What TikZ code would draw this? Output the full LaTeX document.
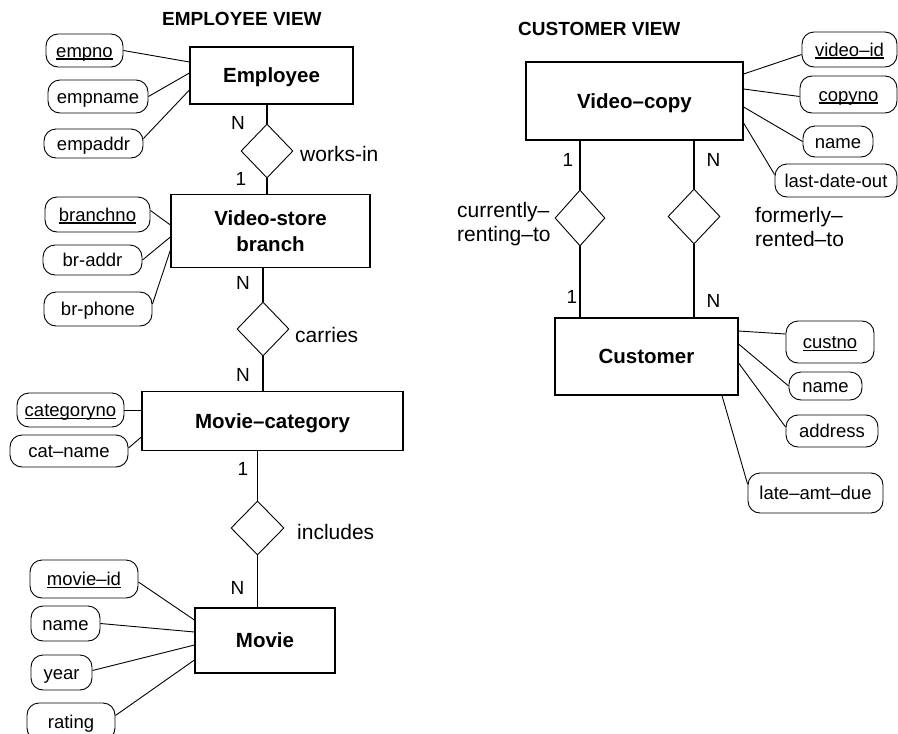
\documentclass[tikz,border=0pt]{standalone}
\usepackage{fontspec}
\setmainfont{Liberation Sans}
\usetikzlibrary{shapes.geometric}
\newcommand\attrul[1]{\setbox0\hbox{#1}\rlap{\vrule width\wd0 height -1.3pt depth 2.4pt}\box0}
\begin{document}
\begin{tikzpicture}[x=1pt,y=-1pt,
 entity/.style={draw, line width=1.2pt, rectangle, inner sep=0pt, font=\fontsize{20.5}{26}\selectfont\bfseries, text depth=0pt},
 attr/.style={draw, line width=0.9pt, rectangle, rounded corners=12pt, inner sep=0pt, font=\fontsize{18.5}{22}\selectfont, text height=13.3pt, text depth=0pt},
 rel/.style={draw, diamond, line width=0.9pt, inner sep=0pt},
 card/.style={inner sep=0pt, font=\fontsize{19}{22}\selectfont, text depth=0pt},
 rlabel/.style={inner sep=0pt, font=\fontsize{21}{24}\selectfont, anchor=base west},
 title/.style={inner sep=0pt, font=\fontsize{19}{22}\selectfont\bfseries, anchor=base west},
 link/.style={line width=0.9pt},
 conn/.style={line width=1.2pt}]
\useasboundingbox (0,0) rectangle (898,734);

% titles
\node[title] (t1) at (162,25) {EMPLOYEE VIEW};
\node[title] (t2) at (518,35) {CUSTOMER VIEW};

% entities
\node[entity, minimum width=163pt, minimum height=57pt] (emp) at (271.5,75.5) {Employee};
\node[entity, minimum width=199pt, minimum height=73pt, align=center] (vsb) at (270.5,231) {Video-store\\branch};
\node[entity, minimum width=261pt, minimum height=59.5pt] (mcat) at (272.5,421) {Movie–category};
\node[entity, minimum width=140pt, minimum height=65pt] (movie) at (265,640.5) {Movie};
\node[entity, minimum width=217pt, minimum height=78pt] (vcopy) at (634.5,101) {Video–copy};
\node[entity, minimum width=183pt, minimum height=77pt] (cust) at (646.5,356.5) {Customer};

% relationships
\node[rel, minimum width=52pt, minimum height=54pt] (worksin) at (267,151) {};
\node[rel, minimum width=52pt, minimum height=54pt] (carries) at (263,329) {};
\node[rel, minimum width=53pt, minimum height=54pt] (includes) at (257.5,528) {};
\node[rel, minimum width=50pt, minimum height=56pt] (renting) at (580,218) {};
\node[rel, minimum width=52pt, minimum height=55pt] (rented) at (694,216.5) {};

\draw[conn] (worksin.north |- emp.south) -- (worksin.north);
\draw[conn] (worksin.south) -- (worksin.south |- vsb.north);
\draw[conn] (carries.north |- vsb.south) -- (carries.north);
\draw[conn] (carries.south) -- (carries.south |- mcat.north);
\draw[conn] (includes.north |- mcat.south) -- (includes.north);
\draw[conn] (includes.south) -- (includes.south |- movie.north);
\draw[conn] (renting.north |- vcopy.south) -- (renting.north);
\draw[conn] (renting.south) -- (renting.south |- cust.north);
\draw[conn] (rented.north |- vcopy.south) -- (rented.north);
\draw[conn] (rented.south) -- (rented.south |- cust.north);

% relationship labels
\node[rlabel] (lw) at (300,161.5) {works-in};
\node[rlabel] (lc) at (295,342) {carries};
\node[rlabel] (li) at (297,539) {includes};
\node[rlabel, anchor=north west, align=left] (lr) at (457,202.5) {currently–\\renting–to};
\node[rlabel, anchor=north west, align=left] (lf) at (755,207.5) {formerly–\\rented–to};

% cardinalities
\node[card] (c1) at (238,123) {N};
\node[card] (c2) at (241,179) {1};
\node[card] (c3) at (243,283) {N};
\node[card] (c4) at (243,375) {N};
\node[card] (c5) at (243,469) {1};
\node[card] (c6) at (237.5,588) {N};
\node[card] (c7) at (568,160) {1};
\node[card] (c8) at (713.5,160) {N};
\node[card] (c9) at (572,297) {1};
\node[card] (c10) at (713.5,301) {N};

% attributes: employee
\node[attr, minimum width=77pt, minimum height=33pt] (empno) at (84.5,50.5) {\attrul{empno}};
\node[attr, minimum width=100pt, minimum height=33pt] (empname) at (98,96.5) {empname};
\node[attr, minimum width=99pt, minimum height=29pt] (empaddr) at (93.5,143.5) {empaddr};
\draw[link] (empno.east) -- (emp.west |- 0,62);
\draw[link] (empname.east) -- (emp.west |- 0,73);
\draw[link] ([yshift=5pt]empaddr.east) -- (emp.west |- 0,90);

% attributes: branch
\node[attr, minimum width=105pt, minimum height=35pt] (branchno) at (97.5,214.5) {\attrul{branchno}};
\node[attr, minimum width=99pt, minimum height=30pt] (braddr) at (92.5,260) {br-addr};
\node[attr, minimum width=108pt, minimum height=34pt] (brphone) at (98,309) {br-phone};
\draw[link] ([yshift=4pt]branchno.east) -- (vsb.west |- 0,225);
\draw[link] (braddr.east) -- (vsb.west |- 0,237);
\draw[link] ([yshift=5pt]brphone.east) -- (vsb.west |- 0,250);

% attributes: category
\node[attr, minimum width=107pt, minimum height=34pt] (catno) at (70.5,410) {\attrul{categoryno}};
\node[attr, minimum width=118pt, minimum height=32pt] (catname) at (69,451) {cat–name};
\draw[link] (catno.east) -- (mcat.west |- 0,410);
\draw[link] ([yshift=3pt]catname.east) -- (mcat.west |- 0,437);

% attributes: movie
\node[attr, minimum width=108pt, minimum height=38pt] (movieid) at (84,579) {\attrul{movie–id}};
\node[attr, minimum width=69pt, minimum height=35pt] (mname) at (65.5,623.5) {name};
\node[attr, minimum width=61pt, minimum height=35pt] (year) at (61.5,672.5) {year};
\node[attr, minimum width=88pt, minimum height=37pt] (rating) at (71,721.5) {rating};
\draw[link] ([yshift=-3pt]movieid.east) -- (movie.west |- 0,620);
\draw[link] (mname.east) -- (movie.west |- 0,632);
\draw[link] ([yshift=2pt]year.east) -- (movie.west |- 0,645);
\draw[link] ([yshift=6pt]rating.east) -- (movie.west |- 0,660);

% attributes: video copy
\node[attr, minimum width=95pt, minimum height=35pt] (videoid) at (849.5,49.5) {\attrul{video–id}};
\node[attr, minimum width=97pt, minimum height=37pt] (copyno) at (848.5,94.5) {\attrul{copyno}};
\node[attr, minimum width=70pt, minimum height=31pt] (vname) at (838,141.5) {name};
\node[attr, minimum width=122pt, minimum height=33pt] (lastdate) at (836,180.5) {last-date-out};
\draw[link] (vcopy.east |- 0,74) -- ([yshift=-5pt]videoid.west);
\draw[link] (vcopy.east |- 0,89) -- ([yshift=-2pt]copyno.west);
\draw[link] (vcopy.east |- 0,107) -- (vname.west);
\draw[link] (vcopy.east |- 0,123) -- ([yshift=6pt]lastdate.west);

% attributes: customer
\node[attr, minimum width=88pt, minimum height=42pt] (custno) at (830,342) {\attrul{custno}};
\node[attr, minimum width=73pt, minimum height=28pt] (cname) at (825.5,386) {name};
\node[attr, minimum width=92pt, minimum height=32pt] (address) at (832,431) {address};
\node[attr, minimum width=135pt, minimum height=40pt] (lateamt) at (815.5,493) {late–amt–due};
\draw[link] (cust.east |- 0,331) -- ([yshift=8pt]custno.west);
\draw[link] (cust.east |- 0,344) -- (cname.west);
\draw[link] (cust.east |- 0,363) -- ([yshift=4pt]address.west);
\draw[link] (cust.south -| 722,0) -- ([yshift=9pt]lateamt.west);
\end{tikzpicture}
\end{document}
